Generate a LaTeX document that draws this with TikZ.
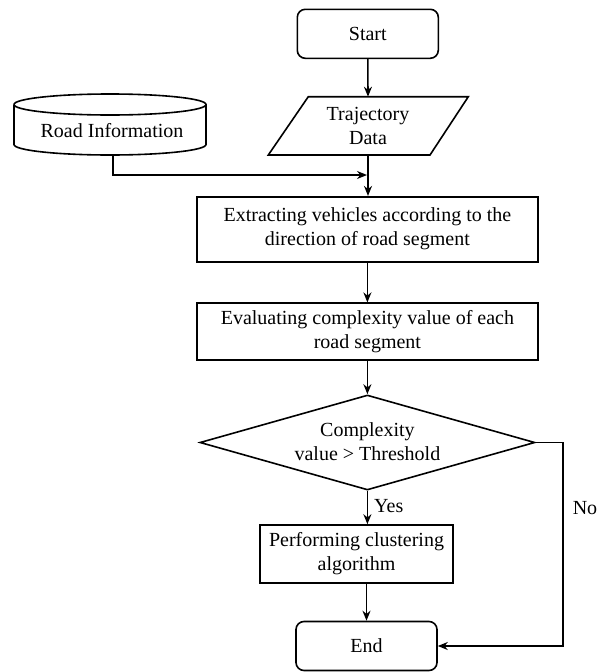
\documentclass[tikz,border=0pt]{standalone}
\usepackage{fontspec}
\setmainfont{Liberation Serif}
\usetikzlibrary{shapes.geometric,arrows.meta}
\begin{document}
\begin{tikzpicture}[x=1pt,y=-1pt,
  every node/.style={font=\fontsize{20}{24}\selectfont, align=center, inner sep=0pt},
  base/.style={draw, line width=1.6pt},
  proc/.style={base, rectangle, minimum width=341pt},
  term/.style={base, rectangle, rounded corners=8pt, minimum width=141pt, minimum height=49pt},
  arr/.style={line width=1.6pt, -{Stealth[length=10pt,width=8pt]}},
  ln/.style={line width=1.6pt}]
\useasboundingbox (0,0) rectangle (605,672);

\node[term] (start) at (367.8,33.8) {Start};

% trajectory data (parallelogram)
\coordinate (tl) at (308.3,96.7);
\coordinate (tr) at (468.3,96.7);
\coordinate (br) at (430,155);
\coordinate (bl) at (268.3,155);
\draw[ln, line join=miter] (tl) -- (tr) -- (br) -- (bl) -- cycle;
\node (traj) at (368,126) {Trajectory\\Data};
\coordinate (trajtop) at (368,96.7);
\coordinate (trajbot) at (368,155);

% road information (cylinder)
\draw[ln] (14,104.5) arc[start angle=180, end angle=-180, x radius=96pt, y radius=10.5pt];
\draw[ln] (14,104.5) -- (14,144.5) arc[start angle=180, end angle=360, x radius=96pt, y radius=10.5pt] -- (206,104.5);
\node (road) at (112,131) {Road Information};
\coordinate (roadbot) at (113,155);
\coordinate (merge) at (367,175);

\node[proc, minimum height=65pt] (ext) at (367.4,229.2) {Extracting vehicles according to the\\direction of road segment};
\node[proc, minimum height=57pt] (eval) at (367.4,331.7) {Evaluating complexity value of each\\road segment};
\node[base, diamond, aspect=3.53, minimum width=335pt, minimum height=95pt] (dec) at (367.4,442.5) {};
\node at (367.4,442) {Complexity\\value > Threshold};
\node[proc, minimum width=193pt, minimum height=58pt] (clu) at (356.5,554) {Performing clustering\\algorithm};
\node[term] (end) at (366.5,646) {End};

\coordinate (nocorner) at (563,442.5);

\draw[arr] (start.south) -- (trajtop);
\draw[arr] (roadbot) |- (merge);
\draw[arr] (trajbot) -- (trajbot |- ext.north);
\draw[arr] (ext.south) -- (eval.north);
\draw[arr] (eval.south) -- (dec.north);
\draw[arr] (dec.south) -- (dec.south |- clu.north) node[pos=0.45, right=6pt] {Yes};
\draw[arr] (clu.south -| end.north) -- (end.north);
\draw[arr] (dec.east) -- (nocorner) |- (end.east);
\node at (585,508) {No};
\end{tikzpicture}
\end{document}
